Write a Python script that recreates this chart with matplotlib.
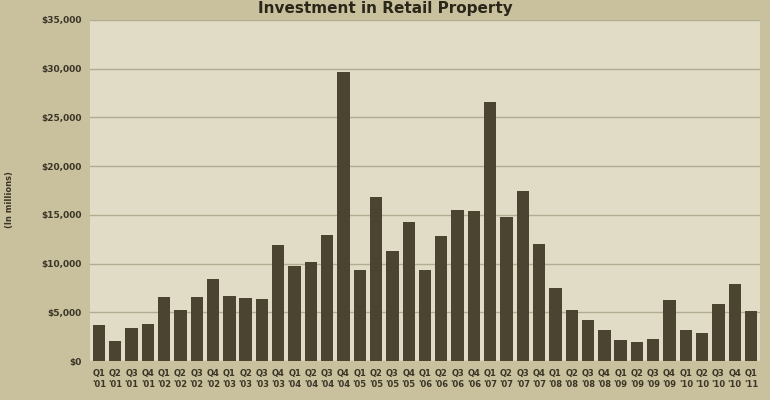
import matplotlib.pyplot as plt
from matplotlib.ticker import FuncFormatter

quarters = ["Q1", "Q2", "Q3", "Q4"]
labels = [f"{quarters[i % 4]}\n'{(1 + i // 4):02d}" for i in range(41)]
values = [3.7, 2.05, 3.4, 3.8, 6.6, 5.2, 6.6, 8.4, 6.7, 6.5, 6.4, 11.9,
          9.75, 10.2, 12.9, 29.7, 9.3, 16.8, 11.3, 14.3, 9.3, 12.8, 15.5, 15.4,
          26.6, 14.8, 17.4, 12.0, 7.5, 5.2, 4.2, 3.2, 2.2, 2.0, 2.3, 6.3,
          3.2, 2.9, 5.8, 7.9, 5.1]
values = [v * 1000 for v in values]

fig = plt.figure(figsize=(7.7, 4.0), dpi=100, facecolor="#c9c19d")
ax = fig.add_axes([90 / 770, 1 - 361 / 400, 670 / 770, 341 / 400])
ax.set_facecolor("#e1dcc6")

x = range(len(values))
ax.bar(x, values, width=0.76, color="#4a4430", zorder=3)
ax.set_xlim(-0.55, len(values) - 0.45)
ax.set_ylim(0, 35000)
ax.set_yticks(range(0, 35001, 5000))
ax.yaxis.set_major_formatter(FuncFormatter(lambda v, p: f"${int(v):,}"))
ax.grid(axis="y", color="#b3ac90", linewidth=1, zorder=0)
ax.set_xticks(list(x))
ax.set_xticklabels(labels, fontsize=6, color="#3a3526", fontweight="bold")
ax.tick_params(axis="both", length=0, pad=6)
ax.tick_params(axis="y", labelsize=6.5, labelcolor="#3a3526")
for lbl in ax.get_yticklabels():
    lbl.set_fontweight("bold")
for s in ax.spines.values():
    s.set_visible(False)

fig.text(10 / 770, 0.5, "(In millions)", rotation=90, fontsize=6, fontweight="bold",
         color="#3a3526", va="center", ha="center")
fig.text(0.5, 0.998, "Investment in Retail Property", fontsize=11, fontweight="bold",
         color="#2a2619", ha="center", va="top")

fig.savefig("out.png", dpi=100, facecolor=fig.get_facecolor())
